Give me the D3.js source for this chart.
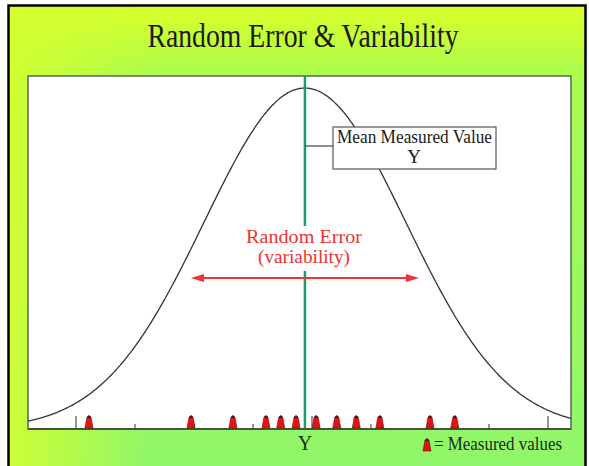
<!DOCTYPE html>
<html>
<head>
<meta charset="utf-8">
<script src="https://cdnjs.cloudflare.com/ajax/libs/d3/7.8.5/d3.min.js"></script>
<style>
  body { margin: 0; background: #fff; }
  text { font-family: "Liberation Serif", "Times New Roman", serif; }
</style>
</head>
<body>
<div class="canvas"></div>
<script>
// Data
const title_text = "Random Error & Variability";
const mean_value = -0.12;
const sd_value = 1.71;
const tick_values = [-4, -3, -2, -1, 0, 1, 2, 3, 4];
const major_ticks = [-4, 0, 4];
const measured_values = [-3.78, -2.05, -1.34, -0.78, -0.53, -0.27, 0.07, 0.42, 0.75, 1.15, 2.0, 2.42];
const mean_label = ["Mean Measured Value", "Y"];
const error_label = ["Random Error", "(variability)"];
const error_span_sd = 1.13;
const axis_label = "Y";
const legend_label = "= Measured values";

// Settings
const width = 589, height = 466;
const plot = {left: 28, right: 571, top: 76, bottom: 429};
const curve_color = "#333";
const mean_color = "#1f9a6a";
const error_color = "#f03232";

const svg = d3.select(".canvas").append("svg")
    .attr("width", width)
    .attr("height", height);

const defs = svg.append("defs");
const bg = defs.append("linearGradient").attr("id", "bg").attr("x1", 0).attr("y1", 0).attr("x2", 0).attr("y2", 1);
bg.append("stop").attr("offset", "0%").attr("stop-color", "#dcff28");
bg.append("stop").attr("offset", "16%").attr("stop-color", "#a8fc50");
bg.append("stop").attr("offset", "100%").attr("stop-color", "#8ff66a");
const side = defs.append("linearGradient").attr("id", "side").attr("x1", 0).attr("y1", 0).attr("x2", 1).attr("y2", 0);
side.append("stop").attr("offset", "0%").attr("stop-color", "#d4ff30").attr("stop-opacity", 0.9);
side.append("stop").attr("offset", "25%").attr("stop-color", "#d4ff30").attr("stop-opacity", 0);

// background slide
svg.append("rect").attr("x", 8).attr("y", 5).attr("width", 578).attr("height", 465)
    .attr("fill", "url(#bg)");
svg.append("rect").attr("x", 8).attr("y", 5).attr("width", 578).attr("height", 465)
    .attr("fill", "url(#side)");
svg.append("path")
    .attr("d", "M8.5,470 V5.5 H585.5 V470")
    .attr("fill", "none").attr("stroke", "#000").attr("stroke-width", 2.5);

svg.append("text")
    .attr("x", 303).attr("y", 47)
    .attr("text-anchor", "middle")
    .attr("font-size", 33)
    .attr("textLength", 311).attr("lengthAdjust", "spacingAndGlyphs")
    .attr("fill", "#1a1a1a")
    .text(title_text);

// plot area
svg.append("rect")
    .attr("x", plot.left).attr("y", plot.top)
    .attr("width", plot.right - plot.left).attr("height", plot.bottom - plot.top)
    .attr("fill", "#fff").attr("stroke", "#556655").attr("stroke-width", 1.5);

// scales
const xScale = d3.scaleLinear().domain([-4, 4]).range([76, 548]);
const yScale = d3.scaleLinear().domain([0, 1]).range([plot.bottom, 88]);

const x_min = xScale.invert(plot.left), x_max = xScale.invert(plot.right);
const curve_pts = d3.range(0, 401).map(i => {
  const x = x_min + (x_max - x_min) * i / 400;
  const z = (x - mean_value) / sd_value;
  return [x, Math.exp(-z * z / 2)];
});

const line = d3.line().x(d => xScale(d[0])).y(d => yScale(d[1])).curve(d3.curveBasis);

svg.append("path")
    .datum(curve_pts)
    .attr("d", line)
    .attr("fill", "none")
    .attr("stroke", curve_color)
    .attr("stroke-width", 1.3);

// mean line
const mean_x = xScale(mean_value);
svg.append("line")
    .attr("x1", mean_x).attr("x2", mean_x)
    .attr("y1", plot.top).attr("y2", plot.bottom)
    .attr("stroke", mean_color).attr("stroke-width", 2.5);

// mean label box
svg.append("line")
    .attr("x1", mean_x).attr("x2", 333)
    .attr("y1", 146).attr("y2", 146)
    .attr("stroke", "#444").attr("stroke-width", 1.2);
svg.append("rect")
    .attr("x", 333).attr("y", 127).attr("width", 163).attr("height", 42)
    .attr("fill", "#fff").attr("stroke", "#555").attr("stroke-width", 1.2);
svg.append("text")
    .attr("x", 414.5).attr("y", 143)
    .attr("text-anchor", "middle").attr("font-size", 19)
    .attr("textLength", 155).attr("lengthAdjust", "spacingAndGlyphs")
    .attr("fill", "#1a1a1a")
    .text(mean_label[0]);
svg.append("text")
    .attr("x", 414).attr("y", 163)
    .attr("text-anchor", "middle").attr("font-size", 19)
    .attr("fill", "#1a1a1a")
    .text(mean_label[1]);

// random error label
svg.append("rect")
    .attr("x", 242).attr("y", 226).attr("width", 124).attr("height", 45)
    .attr("fill", "#fff");
svg.append("text")
    .attr("x", 304).attr("y", 243)
    .attr("text-anchor", "middle").attr("font-size", 19)
    .attr("textLength", 116).attr("lengthAdjust", "spacingAndGlyphs")
    .attr("fill", error_color)
    .text(error_label[0]);
svg.append("text")
    .attr("x", 304).attr("y", 263)
    .attr("text-anchor", "middle").attr("font-size", 19)
    .attr("textLength", 92).attr("lengthAdjust", "spacingAndGlyphs")
    .attr("fill", error_color)
    .text(error_label[1]);

// arrow
const arrow_y = 278;
const ax1 = xScale(mean_value - error_span_sd * sd_value), ax2 = xScale(mean_value + error_span_sd * sd_value);
svg.append("line")
    .attr("x1", ax1 + 8).attr("x2", ax2 - 8)
    .attr("y1", arrow_y).attr("y2", arrow_y)
    .attr("stroke", error_color).attr("stroke-width", 2.2);
svg.append("path")
    .attr("d", `M${ax1},${arrow_y} l13,-4 v8 z M${ax2},${arrow_y} l-13,-4 v8 z`)
    .attr("fill", error_color);

// axis ticks
svg.selectAll("line.tick")
    .data(tick_values)
    .enter()
    .append("line")
    .attr("class", "tick")
    .attr("x1", d => xScale(d)).attr("x2", d => xScale(d))
    .attr("y1", d => major_ticks.includes(d) ? plot.bottom - 13 : plot.bottom - 5)
    .attr("y2", plot.bottom)
    .attr("stroke", "#555").attr("stroke-width", 1.2);

svg.append("line")
    .attr("x1", plot.left).attr("x2", plot.right)
    .attr("y1", plot.bottom).attr("y2", plot.bottom)
    .attr("stroke", "#445544").attr("stroke-width", 1.8);

// measured value markers (cones)
function cone(g, x, base) {
  g.append("path")
      .attr("d", `M${x - 4},${base} L${x - 2},${base - 11} Q${x},${base - 14} ${x + 2},${base - 11} L${x + 4},${base} Z`)
      .attr("fill", "#e01414")
      .attr("stroke", "#7a0a0a").attr("stroke-width", 0.6);
  g.append("path")
      .attr("d", `M${x - 1.8},${base - 10} Q${x},${base - 15} ${x + 1.8},${base - 10} Z`)
      .attr("fill", "#222");
}

const markers = svg.append("g");
measured_values.forEach(v => cone(markers, xScale(v), plot.bottom - 1));

// bottom labels
svg.append("text")
    .attr("x", mean_x).attr("y", 450)
    .attr("text-anchor", "middle").attr("font-size", 20)
    .attr("fill", "#1a2a1a")
    .text(axis_label);

cone(svg.append("g"), 427, 451);
svg.append("text")
    .attr("x", 434).attr("y", 450)
    .attr("font-size", 18)
    .attr("textLength", 128).attr("lengthAdjust", "spacingAndGlyphs")
    .attr("fill", "#1a2a1a")
    .text(legend_label);
</script>
</body>
</html>
